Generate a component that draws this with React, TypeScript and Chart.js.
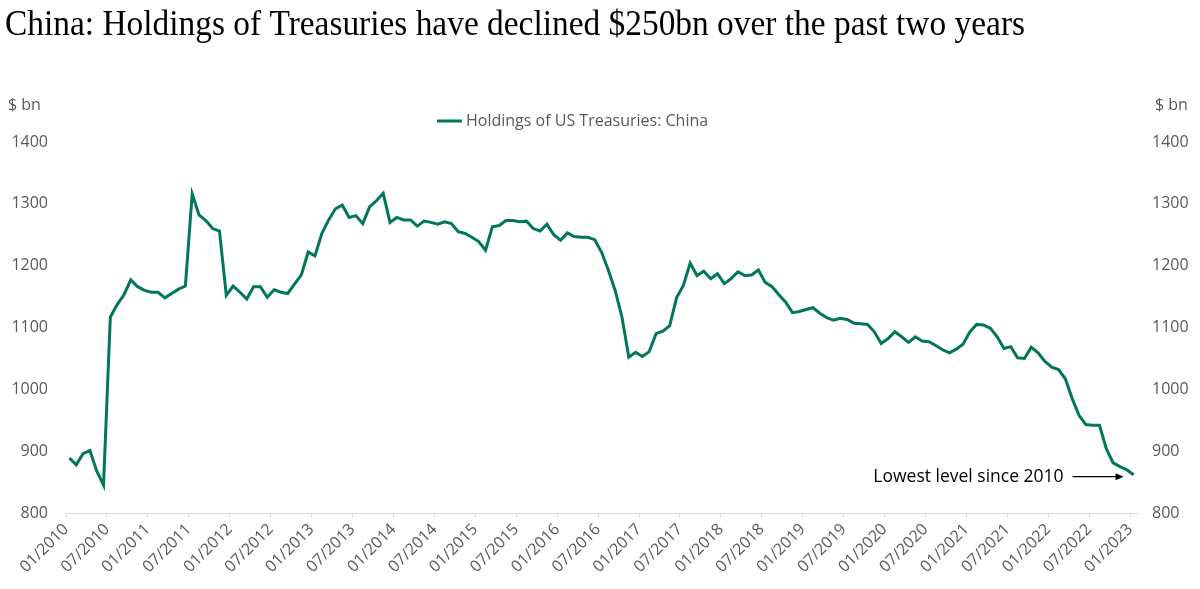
import React, { useEffect, useRef } from 'react';
import { Chart, registerables } from 'chart.js';

Chart.register(...registerables);

const chartTitle = 'China: Holdings of Treasuries have declined $250bn over the past two years';
const seriesName = 'Holdings of US Treasuries: China';
const unitLabel = '$ bn';
const annotationText = 'Lowest level since 2010';

// x-axis tick labels, one every 6 months (first month: 01/2010)
const tickLabels = [
  '01/2010', '07/2010', '01/2011', '07/2011', '01/2012', '07/2012', '01/2013', '07/2013',
  '01/2014', '07/2014', '01/2015', '07/2015', '01/2016', '07/2016', '01/2017', '07/2017',
  '01/2018', '07/2018', '01/2019', '07/2019', '01/2020', '07/2020', '01/2021', '07/2021',
  '01/2022', '07/2022', '01/2023',
];
const monthsPerTick = 6;

// Monthly holdings, $ bn, Jan 2010 .. Jan 2023
const holdings2010 = [889, 878, 896, 901, 868, 845, 1117, 1137, 1153, 1177, 1166, 1160];
const holdings2011 = [1157, 1157, 1148, 1155, 1162, 1167, 1316, 1282, 1273, 1260, 1256, 1152];
const holdings2012 = [1167, 1157, 1146, 1166, 1166, 1149, 1161, 1157, 1155, 1170, 1185, 1222];
const holdings2013 = [1216, 1252, 1274, 1292, 1298, 1278, 1281, 1268, 1295, 1305, 1317, 1270];
const holdings2014 = [1278, 1274, 1274, 1264, 1272, 1270, 1267, 1271, 1268, 1255, 1252, 1246];
const holdings2015 = [1239, 1225, 1263, 1265, 1273, 1273, 1271, 1272, 1260, 1256, 1267, 1250];
const holdings2016 = [1241, 1253, 1247, 1246, 1246, 1242, 1222, 1193, 1160, 1117, 1052, 1060];
const holdings2017 = [1053, 1061, 1090, 1094, 1103, 1148, 1168, 1204, 1184, 1191, 1179, 1187];
const holdings2018 = [1171, 1179, 1190, 1184, 1185, 1193, 1173, 1166, 1153, 1141, 1124, 1126];
const holdings2019 = [1129, 1132, 1123, 1116, 1112, 1115, 1113, 1107, 1106, 1105, 1093, 1074];
const holdings2020 = [1082, 1093, 1085, 1076, 1085, 1078, 1077, 1071, 1064, 1059, 1065, 1073];
const holdings2021 = [1093, 1105, 1104, 1099, 1085, 1066, 1069, 1051, 1050, 1068, 1059, 1045];
const holdings2022 = [1036, 1032, 1017, 985, 958, 943, 942, 942, 904, 881, 875, 870];
const holdings2023 = [862];

const holdings = [
  ...holdings2010, ...holdings2011, ...holdings2012, ...holdings2013, ...holdings2014,
  ...holdings2015, ...holdings2016, ...holdings2017, ...holdings2018, ...holdings2019,
  ...holdings2020, ...holdings2021, ...holdings2022, ...holdings2023,
];

const yMin = 800;
const yMax = 1400;
const yStep = 100;

const GREEN = '#00775A';
const GREY = '#595959';
const AXIS = '#D9D9D9';
const SANS = '"Open Sans", "Noto Sans", sans-serif';

const overlayPlugin = {
  id: 'overlay',
  afterDraw(chart: any) {
    const ctx = chart.ctx as CanvasRenderingContext2D;
    const { x, y } = chart.scales;
    ctx.save();

    // Title
    ctx.fillStyle = '#000';
    ctx.font = '35px "Liberation Serif", "DejaVu Serif", serif';
    ctx.textBaseline = 'alphabetic';
    ctx.textAlign = 'left';
    const tw = ctx.measureText(chartTitle).width;
    const targetW = 1020;
    ctx.save();
    ctx.translate(5, 35);
    ctx.scale(targetW / tw, 1);
    ctx.fillText(chartTitle, 0, 0);
    ctx.restore();

    // Unit labels
    ctx.fillStyle = GREY;
    ctx.font = `16px ${SANS}`;
    ctx.textBaseline = 'middle';
    ctx.textAlign = 'left';
    ctx.fillText(unitLabel, 8, 105);
    ctx.fillText(unitLabel, 1155, 105);

    // Legend
    ctx.strokeStyle = GREEN;
    ctx.lineWidth = 3;
    ctx.beginPath();
    ctx.moveTo(437, 121);
    ctx.lineTo(462, 121);
    ctx.stroke();
    ctx.fillStyle = GREY;
    ctx.font = `16px ${SANS}`;
    ctx.fillText(seriesName, 466, 121);

    // Annotation with arrow, anchored to the last point
    const lastIdx = holdings.length - 1;
    const px = x.getPixelForValue(lastIdx + 0.5);
    const py = y.getPixelForValue(holdings[lastIdx]);
    const tipX = px - 10;
    const ay = py + 2;
    const tailX = tipX - 51;
    ctx.strokeStyle = '#000';
    ctx.fillStyle = '#000';
    ctx.lineWidth = 1.3;
    ctx.beginPath();
    ctx.moveTo(tailX, ay);
    ctx.lineTo(tipX - 6, ay);
    ctx.stroke();
    ctx.beginPath();
    ctx.moveTo(tipX, ay);
    ctx.lineTo(tipX - 8, ay - 3.5);
    ctx.lineTo(tipX - 8, ay + 3.5);
    ctx.closePath();
    ctx.fill();
    ctx.font = `17.5px ${SANS}`;
    ctx.textAlign = 'right';
    ctx.textBaseline = 'middle';
    ctx.fillText(annotationText, tailX - 9, ay);

    ctx.restore();
  },
};

const plainNumber = (v: any) => String(v);

export default function App() {
  const canvasRef = useRef<HTMLCanvasElement | null>(null);

  useEffect(() => {
    if (!canvasRef.current) return;
    const data = holdings.map((v, i) => ({ x: i + 0.5, y: v }));
    const chart = new Chart(canvasRef.current, {
      type: 'line',
      data: {
        datasets: [
          {
            label: seriesName,
            data,
            borderColor: GREEN,
            backgroundColor: GREEN,
            borderWidth: 3,
            pointRadius: 0,
            tension: 0,
            fill: false,
            yAxisID: 'y',
          },
        ],
      },
      options: {
        responsive: false,
        animation: false,
        events: [],
        layout: { padding: { top: 142, left: 0, right: 0, bottom: 0 } },
        plugins: {
          legend: { display: false },
          title: { display: false },
          tooltip: { enabled: false },
        },
        scales: {
          x: {
            type: 'linear',
            min: 0,
            max: holdings.length,
            afterFit: (s: any) => { s.height = 76; },
            grid: {
              display: true,
              drawOnChartArea: false,
              drawTicks: true,
              tickLength: 5,
              color: AXIS,
            },
            border: { display: true, color: AXIS, width: 1 },
            ticks: {
              stepSize: monthsPerTick,
              includeBounds: false,
              autoSkip: false,
              maxRotation: 45,
              minRotation: 45,
              padding: 2,
              color: GREY,
              font: { family: SANS, size: 16 },
              callback: (v: any) => {
                const idx = Math.round(Number(v) / monthsPerTick);
                return tickLabels[idx] ?? '';
              },
            },
          },
          y: {
            position: 'left',
            min: yMin,
            max: yMax,
            afterFit: (s: any) => { s.width = 66; },
            grid: { display: false, drawTicks: false },
            border: { display: false },
            ticks: {
              stepSize: yStep,
              padding: 18,
              color: GREY,
              font: { family: SANS, size: 16 },
              callback: plainNumber,
            },
          },
          y2: {
            position: 'right',
            min: yMin,
            max: yMax,
            afterFit: (s: any) => { s.width = 63; },
            grid: { display: false, drawTicks: false },
            border: { display: false },
            ticks: {
              stepSize: yStep,
              padding: 15,
              color: GREY,
              font: { family: SANS, size: 16 },
              callback: plainNumber,
            },
          },
        },
      },
      plugins: [overlayPlugin],
    } as any);
    return () => chart.destroy();
  }, []);

  return (
    <div style={{ position: 'absolute', left: 0, top: 0, width: 1200, height: 589, background: '#fff' }}>
      <canvas ref={canvasRef} width={1200} height={589} style={{ display: 'block' }} />
    </div>
  );
}
